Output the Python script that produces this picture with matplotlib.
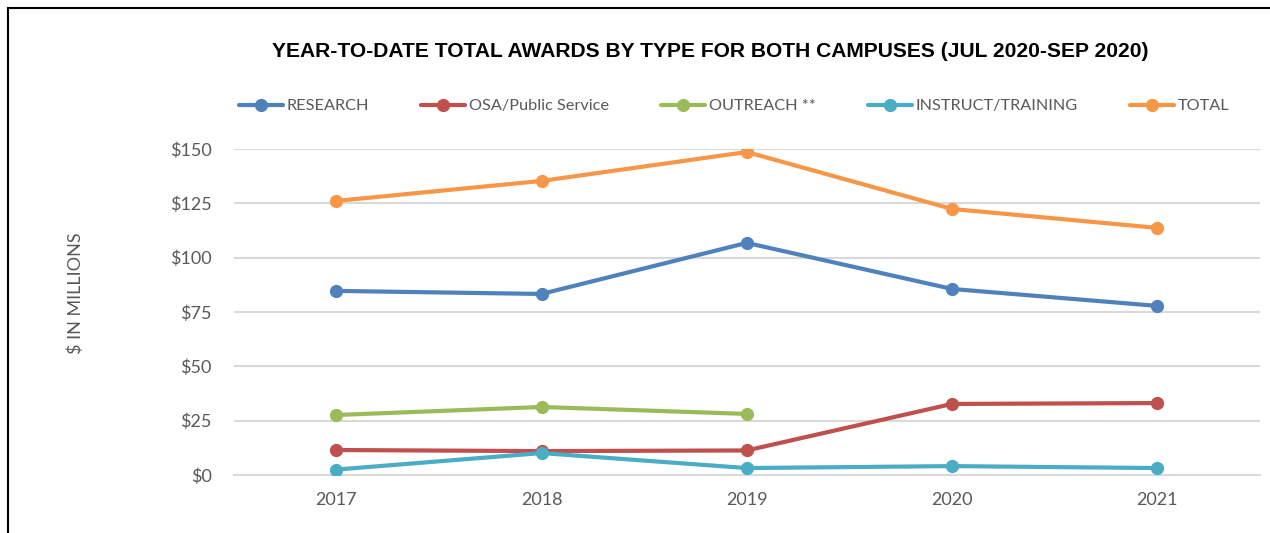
import matplotlib.pyplot as plt
import numpy as np
from matplotlib.patches import Rectangle

# Veriler (milyon $)
years = ['2017', '2018', '2019', '2020', '2021']
research = [84.7, 83.3, 106.8, 85.6, 77.8]
osa = [11.5, 11.0, 11.3, 32.7, 33.1]
outreach = [27.6, 31.3, 28.1, np.nan, np.nan]
instruct = [2.5, 10.1, 3.2, 4.1, 3.2]
total = [126.1, 135.3, 148.6, 122.4, 113.7]

series = [
    ('RESEARCH', research, '#4F81BD'),
    ('OSA/Public Service', osa, '#C0504D'),
    ('OUTREACH **', outreach, '#9BBB59'),
    ('INSTRUCT/TRAINING', instruct, '#4BACC6'),
    ('TOTAL', total, '#F79646'),
]
yticks = [0, 25, 50, 75, 100, 125, 150]

gray = '#595959'
plt.rcParams['font.family'] = ['Lato', 'DejaVu Sans']

fig = plt.figure(figsize=(12.7, 5.33), dpi=100)
ax = fig.add_axes([0.184, 0.1088, 0.808, 0.6117])

x = np.arange(len(years))
for name, vals, color in series:
    ax.plot(x, vals, color=color, lw=3, marker='o', ms=8.5, label=name,
            solid_capstyle='round', zorder=3)

ax.set_xlim(-0.5, len(years) - 0.5)
ax.set_ylim(0, 150)
ax.set_yticks(yticks)
ax.set_yticklabels([f'${v}' for v in yticks])
ax.set_xticks(x)
ax.set_xticklabels(years)
ax.tick_params(length=0, labelsize=13, labelcolor=gray)
ax.tick_params(axis='y', pad=16)
ax.tick_params(axis='x', pad=12)
ax.grid(axis='y', color='#D9D9D9', lw=1.5, zorder=0)
for s in ['top', 'right', 'left']:
    ax.spines[s].set_visible(False)
ax.spines['bottom'].set_color('#D9D9D9')
ax.spines['bottom'].set_linewidth(1.5)

fig.text(0.06, 0.45, '$ IN MILLIONS', rotation=90, ha='center', va='center',
         fontsize=13, color=gray)

fig.text(0.559, 0.903, 'YEAR-TO-DATE TOTAL AWARDS BY TYPE FOR BOTH CAMPUSES (JUL 2020-SEP 2020)',
         ha='center', va='center', fontsize=15.1, fontweight='bold',
         family='Liberation Sans', color='black')

fig.legend(loc='center', bbox_to_anchor=(0.578, 0.801), ncol=5, frameon=False,
           fontsize=11.7, labelcolor=gray, handlelength=2.7, handletextpad=0.25,
           columnspacing=3.2)

# cerceve
fig.patches.append(Rectangle((8 / 1270, -0.2), 1.5, (533 - 8) / 533 + 0.2,
                             transform=fig.transFigure, fill=False,
                             edgecolor='black', lw=1.5, clip_on=False))

fig.savefig('out.png', dpi=100)
